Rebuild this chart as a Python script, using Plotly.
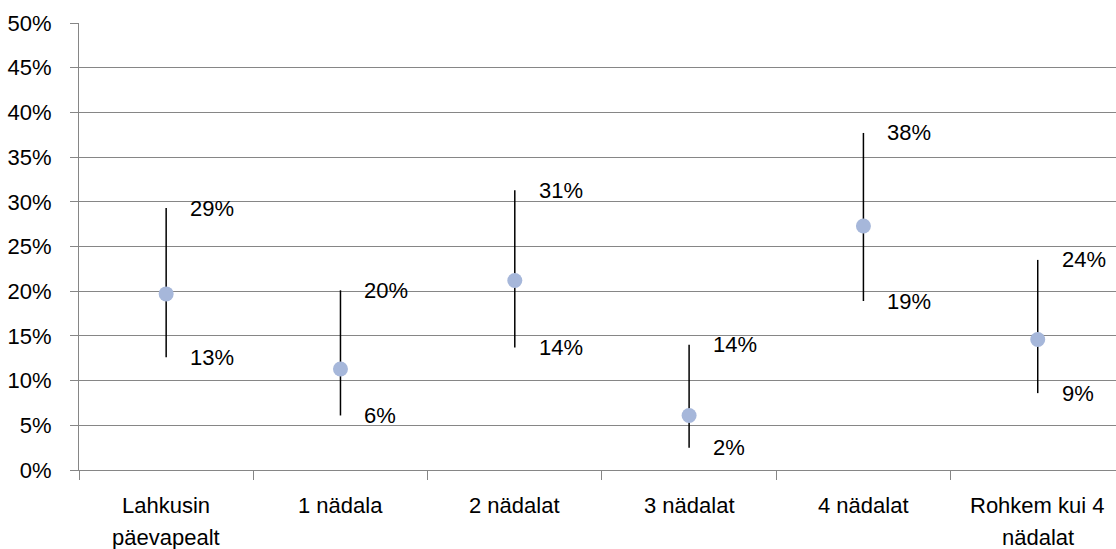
import plotly.graph_objects as go

categories = ["Lahkusin\npäevapealt", "1 nädala", "2 nädalat", "3 nädalat", "4 nädalat", "Rohkem kui 4\nnädalat"]
center = [0.197, 0.113, 0.212, 0.061, 0.273, 0.146]
high = [0.293, 0.201, 0.313, 0.140, 0.377, 0.235]
low = [0.126, 0.061, 0.137, 0.025, 0.189, 0.086]
high_labels = ["29%", "20%", "31%", "14%", "38%", "24%"]
low_labels = ["13%", "6%", "14%", "2%", "19%", "9%"]
ytick_vals = [i * 0.05 for i in range(11)]

FONT = "Liberation Sans"
FS = 22
xs = list(range(len(categories)))

fig = go.Figure()
fig.add_trace(go.Scatter(
    x=xs, y=center, mode="markers",
    marker=dict(size=15, color="#A6B7DA"),
    error_y=dict(type="data", symmetric=False,
                 array=[h - c for h, c in zip(high, center)],
                 arrayminus=[c - l for c, l in zip(center, low)],
                 color="black", thickness=1.5, width=0),
    showlegend=False, hoverinfo="skip",
))

for i in xs:
    fig.add_annotation(x=i, y=high[i], text=high_labels[i], showarrow=False,
                       xanchor="left", yanchor="middle", xshift=22,
                       font=dict(family=FONT, size=FS, color="black"))
    fig.add_annotation(x=i, y=low[i], text=low_labels[i], showarrow=False,
                       xanchor="left", yanchor="middle", xshift=22,
                       font=dict(family=FONT, size=FS, color="black"))
    for j, line in enumerate(categories[i].split("\n")):
        fig.add_annotation(x=i, y=0, yref="paper", text=line, showarrow=False,
                           xanchor="center", yanchor="middle", yshift=-35 - 32 * j,
                           font=dict(family=FONT, size=FS, color="black"))

fig.update_layout(
    width=1116, height=549,
    margin=dict(l=79, r=0, t=23, b=79),
    plot_bgcolor="white", paper_bgcolor="white",
    font=dict(family=FONT, size=FS, color="black"),
)
fig.update_xaxes(
    range=[-0.5, 5.449], tickmode="array", tickvals=xs, ticktext=[""] * len(xs),
    showgrid=False, zeroline=False, showline=True, linecolor="#868686", linewidth=1,
    ticks="", automargin=False,
)
fig.update_xaxes(minor=dict(tickmode="array", tickvals=[i - 0.5 for i in range(7)],
                            ticks="outside", ticklen=9, tickcolor="#868686", tickwidth=1,
                            showgrid=False))
fig.update_yaxes(
    range=[0, 0.5], tickmode="array", tickvals=ytick_vals, tickformat=".0%",
    showgrid=True, gridcolor="#868686", gridwidth=1, zeroline=False,
    showline=True, linecolor="#868686", linewidth=1,
    ticks="outside", ticklen=8, tickcolor="#868686", ticklabelstandoff=14,
    automargin=False,
    tickfont=dict(family=FONT, size=FS, color="black"),
)

fig.write_html("out.html", config={"displayModeBar": False},
               post_script="document.body.style.margin='0';document.body.style.overflow='hidden';")
